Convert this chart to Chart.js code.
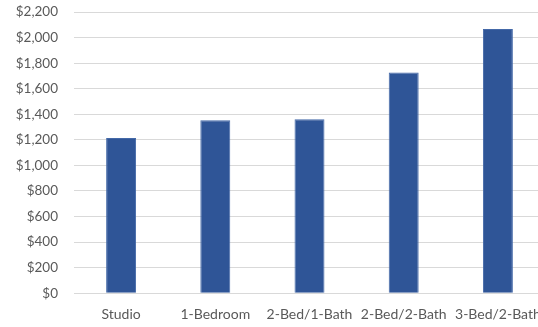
<!DOCTYPE html>
<html>
<head>
<meta charset="utf-8">
<script src="https://cdn.jsdelivr.net/npm/chart.js@4/dist/chart.umd.min.js"></script>
<style>
  html, body { margin: 0; padding: 0; background: #fff; overflow: hidden; width: 538px; height: 327px; }
  #wrap { position: relative; width: 538px; height: 327px; overflow: hidden; }
  #c { position: absolute; left: 0; top: -12px; }
</style>
</head>
<body>
<div id="wrap"><canvas id="c" width="560" height="352"></canvas></div>
<script>
// Average monthly rent by unit type
const categories = ['Studio', '1-Bedroom', '2-Bed/1-Bath', '2-Bed/2-Bath', '3-Bed/2-Bath'];
const rents = [1215, 1353, 1361, 1727, 2068];
const yMin = 0;
const yMax = 2200;
const yStep = 200;

const family = 'Lato, "Open Sans", sans-serif';
const textColor = '#595959';

new Chart(document.getElementById('c'), {
  type: 'bar',
  data: {
    labels: categories,
    datasets: [{
      data: rents,
      backgroundColor: '#2f5597',
      borderColor: '#4469a8',
      borderWidth: 1,
      barPercentage: 0.318,
      categoryPercentage: 1
    }]
  },
  options: {
    responsive: false,
    animation: false,
    layout: { padding: { top: 3, right: 15, bottom: 4, left: 0 } },
    plugins: { legend: { display: false }, tooltip: { enabled: false } },
    scales: {
      x: {
        offset: true,
        grid: { display: false, drawTicks: false },
        border: { display: false },
        ticks: { color: textColor, font: { family: family, size: 14 }, padding: 13, maxRotation: 0, autoSkip: false }
      },
      y: {
        min: yMin,
        max: yMax,
        grid: { color: '#d9d9d9', lineWidth: 1, drawTicks: false },
        border: { display: false },
        afterFit: (s) => { s.width = 74; },
        ticks: {
          stepSize: yStep,
          color: textColor,
          font: { family: family, size: 13.5 },
          padding: 16,
          callback: (v) => '$' + v.toLocaleString('en-US')
        }
      }
    }
  }
});
</script>
</body>
</html>
